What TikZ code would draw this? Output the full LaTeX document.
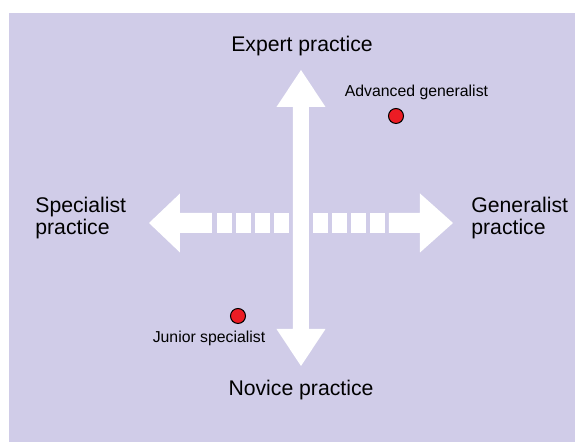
\documentclass[tikz,border=0pt]{standalone}
\usepackage{fontspec}
\setmainfont{Liberation Sans}
\definecolor{bgpanel}{RGB}{208,204,232}
\definecolor{dotred}{RGB}{236,28,36}

\begin{document}
\begin{tikzpicture}[x=0.5pt, y=-0.5pt,
  biglabel/.style={font=\fontsize{10.6}{11}\selectfont, inner sep=0pt, align=left},
  smalllabel/.style={font=\fontsize{7.9}{9}\selectfont, inner sep=0pt},
  dot/.style={circle, draw=black, fill=dotred, line width=0.5pt, minimum size=7.5pt, inner sep=0pt}]
\useasboundingbox (0,0) rectangle (575,442);
\fill[bgpanel] (9,13) rectangle (575,442);
% horizontal arrow, dashed shaft
\fill[white] (149,223) -- (180,193.5) -- (180,213) -- (212,213) -- (212,233) -- (180,233) -- (180,252.5) -- cycle;
\fill[white] (453,223) -- (420,193.5) -- (420,213) -- (389,213) -- (389,233) -- (420,233) -- (420,252.5) -- cycle;
\foreach \x in {217,236,255,274,313,332,351,370}
  \fill[white] (\x,213) rectangle (\x+15,233);
% vertical arrow
\fill[white] (301,70) -- (325.5,107) -- (309,107) -- (309,329) -- (325.5,329) -- (301,366)
  -- (276.5,329) -- (293,329) -- (293,107) -- (276.5,107) -- cycle;
\node[biglabel, anchor=base] (expert) at (302,52) {Expert practice};
\node[biglabel, anchor=base] (novice) at (301,396) {Novice practice};
\node[biglabel, anchor=base west] (spec) at (35,235) {Specialist\\practice};
\node[biglabel, anchor=base west] (gen) at (471,235) {Generalist\\practice};
\node[dot] (adv) at (396,116) {};
\node[smalllabel, anchor=base] (advlab) at (416.5,97) {Advanced generalist};
\node[dot] (jun) at (238,316) {};
\node[smalllabel, anchor=base] (junlab) at (209,343) {Junior specialist};
\end{tikzpicture}
\end{document}
